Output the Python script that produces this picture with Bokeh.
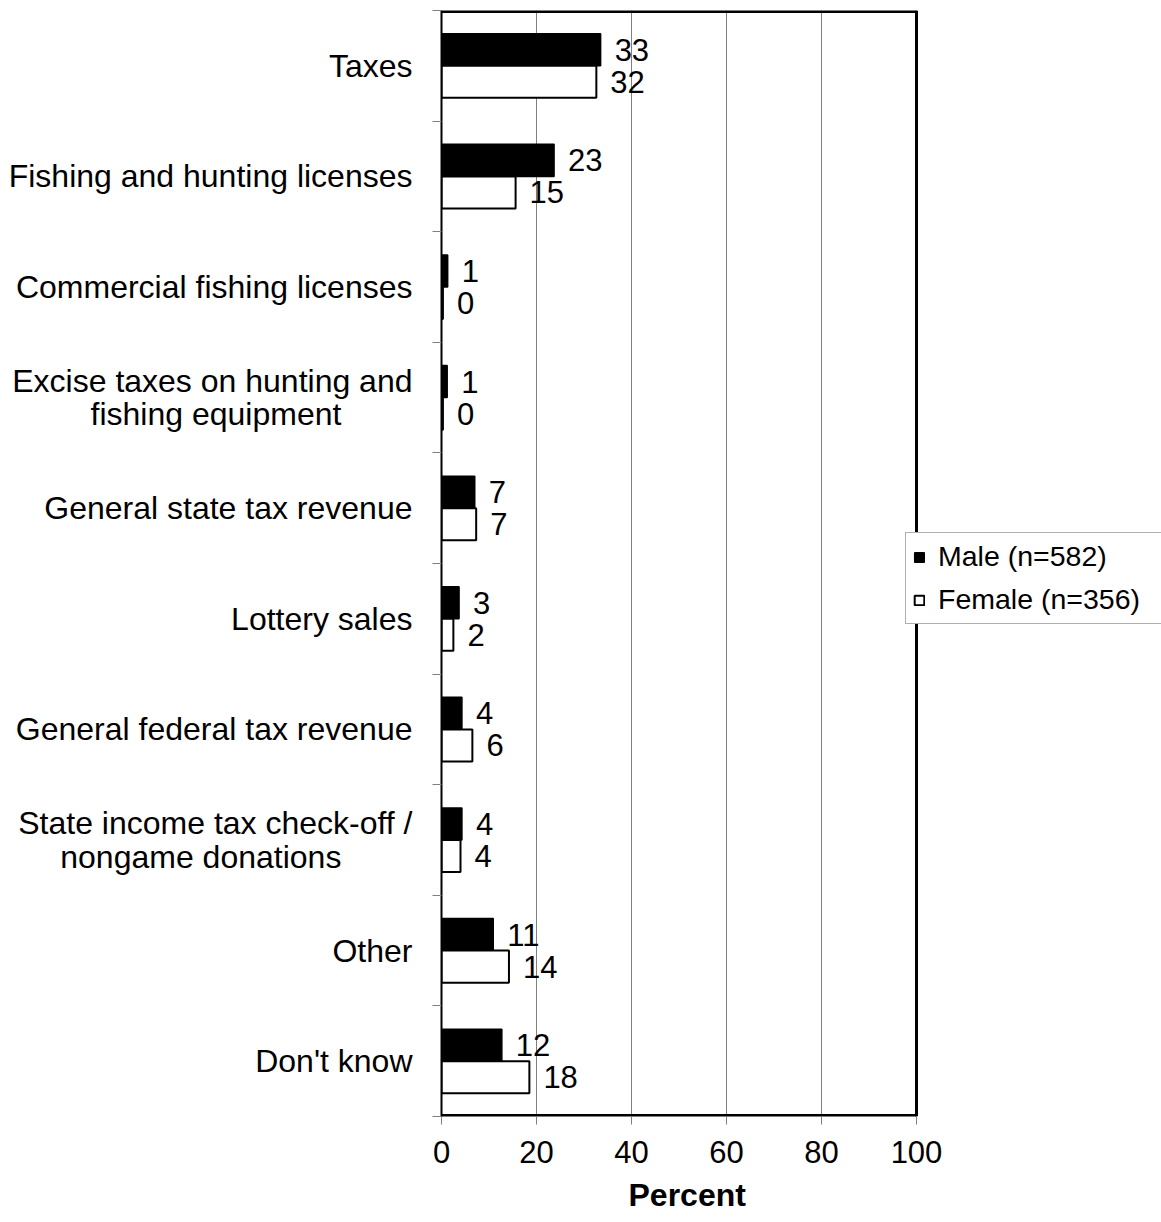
import numpy as np
from bokeh.plotting import figure
from bokeh.models import (ColumnDataSource, Range1d, FixedTicker, LabelSet, Legend,
                          LegendItem, Title)
from bokeh.transform import dodge
from bokeh.core.properties import value
from bokeh.embed import file_html
from bokeh.resources import INLINE

NB = "\u00a0" * 8   # pads the 2nd line of a wrapped label so it sits centred under the 1st

categories = [
    "Taxes",
    "Fishing and hunting licenses",
    "Commercial fishing licenses",
    "Excise taxes on hunting and\nfishing equipment" + NB,
    "General state tax revenue",
    "Lottery sales",
    "General federal tax revenue",
    "State income tax check-off /\nnongame donations" + NB,
    "Other",
    "Don't know",
]
male = [33.5, 23.7, 1.3, 1.2, 7.0, 3.7, 4.3, 4.3, 10.9, 12.7]
female = [32.6, 15.6, 0.3, 0.3, 7.3, 2.5, 6.5, 4.0, 14.2, 18.5]
male_labels = ["33", "23", "1", "1", "7", "3", "4", "4", "11", "12"]
female_labels = ["32", "15", "0", "0", "7", "2", "6", "4", "14", "18"]
x_ticks = [0, 20, 40, 60, 80, 100]
series_names = ["Male (n=582)", "Female (n=356)"]
x_title = "Percent"

FONT = "Liberation Sans"
n = len(categories)
ypos = list(np.arange(n) + 0.5)
x_max = x_ticks[-1]

# layout (pixels)
W, H = 1161, 1222
LEFT, TOP, BOTTOM = 441, 10, 106
AXIS_PX = 475                      # pixel length of 0..100 on the x axis
frame_px = W - LEFT                # frame extends to the right edge (room for legend)

src = ColumnDataSource(dict(y=ypos, male=male, female=female,
                            ml=male_labels, fl=female_labels))

p = figure(width=W, height=H,
           x_range=Range1d(0, x_max * frame_px / AXIS_PX), y_range=Range1d(n, 0),
           output_backend="svg", toolbar_location=None,
           min_border_left=LEFT, min_border_right=0, min_border_top=TOP,
           min_border_bottom=BOTTOM)

# plot-area border of the 0..100 region: top and bottom lie on the frame edge (half clipped)
p.segment(x0=[0, 0], y0=[0, n], x1=[x_max, x_max], y1=[0, n], line_color="black", line_width=5)
p.line(x=[x_max, x_max], y=[0, n], line_color="black", line_width=3)

BH = 0.29
rm = p.hbar(y=dodge("y", -0.145, range=p.y_range), right="male", left=0, height=BH, source=src,
            fill_color="black", line_color="black", line_width=1.5)
rf = p.hbar(y=dodge("y", 0.145, range=p.y_range), right="female", left=0, height=BH, source=src,
            fill_color="white", line_color="black", line_width=2)

lab_kw = dict(x_offset=14, text_align="left", text_baseline="middle",
              text_font=value(FONT), text_font_size="31px", text_color="black", source=src)
p.add_layout(LabelSet(x="male", y=dodge("y", -0.145, range=p.y_range), text="ml", **lab_kw))
p.add_layout(LabelSet(x="female", y=dodge("y", 0.145, range=p.y_range), text="fl", **lab_kw))

# x axis
p.xaxis.ticker = FixedTicker(ticks=x_ticks)
p.xaxis.major_label_text_font = FONT
p.xaxis.major_label_text_font_size = "31px"
p.xaxis.major_label_text_color = "black"
p.xaxis.major_label_standoff = 16
p.xaxis.major_tick_out = 8
p.xaxis.major_tick_in = 0
p.xaxis.major_tick_line_color = "#808080"
p.xaxis.minor_tick_line_color = None
p.xaxis.axis_line_color = None

p.add_layout(Title(text=x_title, align="left", offset=187, standoff=18,
                   text_font=FONT, text_font_size="32px", text_font_style="bold",
                   text_color="black"), "below")

# y axis
p.yaxis.ticker = FixedTicker(ticks=ypos, minor_ticks=list(range(n + 1)))
p.yaxis.major_label_overrides = {float(y): c for y, c in zip(ypos, categories)}
p.yaxis.major_label_text_font = FONT
p.yaxis.major_label_text_font_size = "32px"
p.yaxis.major_label_text_line_height = 0.92
p.yaxis.major_label_text_color = "black"
p.yaxis.major_label_standoff = 20
p.yaxis.major_tick_line_color = None
p.yaxis.major_tick_out = 0
p.yaxis.major_tick_in = 0
p.yaxis.minor_tick_out = 9
p.yaxis.minor_tick_in = 0
p.yaxis.minor_tick_line_color = "#808080"
p.yaxis.axis_line_color = "black"
p.yaxis.axis_line_width = 2

p.xgrid.ticker = FixedTicker(ticks=x_ticks)
p.xgrid.grid_line_color = "#808080"
p.xgrid.grid_line_width = 1
p.ygrid.grid_line_color = None

p.outline_line_color = None
p.background_fill_color = "white"
p.border_fill_color = "white"

legend = Legend(items=[LegendItem(label=series_names[0], renderers=[rm]),
                       LegendItem(label=series_names[1], renderers=[rf])],
                location=(464, 492), orientation="vertical",
                label_text_font=FONT, label_text_font_size="28.5px", label_text_color="black",
                glyph_width=12, glyph_height=12, label_standoff=13, label_width=228,
                padding=7, spacing=10, margin=0,
                border_line_color="#606060", border_line_width=1,
                background_fill_color="white", background_fill_alpha=1.0)
p.add_layout(legend)

open("out.html", "w").write(file_html(p, INLINE))
